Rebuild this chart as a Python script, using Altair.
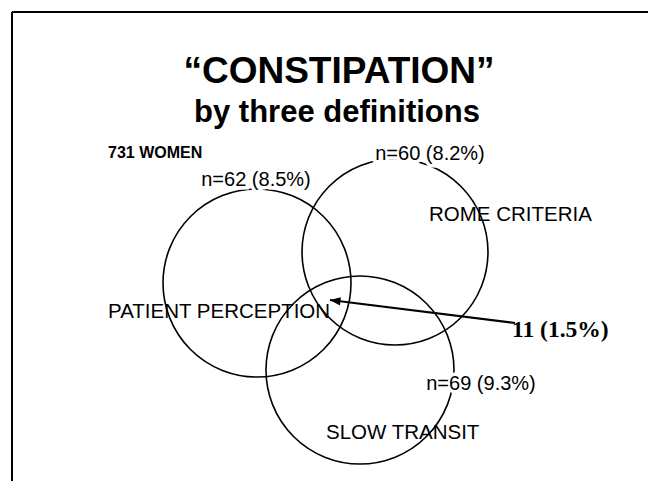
import math
import altair as alt
import pandas as pd

# ---- data (page pixel coordinates) ----
circle_names = ["PATIENT PERCEPTION", "ROME CRITERIA", "SLOW TRANSIT"]
circle_cx = [257, 395, 360]
circle_cy = [283, 252, 370]
circle_r = [94, 93, 94]

label_x = [108, 429, 326]
label_y = [318, 221, 439]

count_text = ["n=62 (8.5%)", "n=60 (8.2%)", "n=69 (9.3%)"]
count_x = [256, 430, 481]
count_y = [186, 160, 390]

overlap_text = "11 (1.5%)"
overlap_pos = (512, 337)
arrow_from = (515, 323)
arrow_to = (330, 300)

sample_text = "731 WOMEN"
sample_pos = (108, 158)

title_lines = ["\u201cCONSTIPATION\u201d", "by three definitions"]
title_x = [339, 337]
title_y = [83, 122]

frame_left, frame_right, frame_top, frame_bottom = 12, 651, 12, 495

W, H = 640, 473
xs = alt.Scale(domain=[8, 8 + W], range=[0, W], nice=False, zero=False)
ys = alt.Scale(domain=[8, 8 + H], reverse=True, nice=False, zero=False)
FONT = "Liberation Sans"

def X(f):
    return alt.X(f, type="quantitative", scale=xs, axis=None)

def Y(f):
    return alt.Y(f, type="quantitative", scale=ys, axis=None)

circles = pd.DataFrame({
    "name": circle_names, "cx": circle_cx, "cy": circle_cy,
    "size": [(2 * r) ** 2 for r in circle_r],
})
circle_layer = alt.Chart(circles).mark_point(
    shape="circle", filled=False, color="black", strokeWidth=1.6, opacity=1
).encode(x=X("cx"), y=Y("cy"), size=alt.Size("size:Q", scale=None, legend=None))

labels = pd.DataFrame({"t": circle_names, "x": label_x, "y": label_y})
label_layer = alt.Chart(labels).mark_text(
    font=FONT, fontSize=20.5, align="left", baseline="alphabetic", color="black"
).encode(x=X("x"), y=Y("y"), text="t:N")

counts = pd.DataFrame({"t": count_text, "x": count_x, "y": count_y})
count_halo = alt.Chart(counts).mark_text(
    font=FONT, fontSize=20, align="center", baseline="alphabetic",
    stroke="white", strokeWidth=7, fill="white"
).encode(x=X("x"), y=Y("y"), text="t:N")
count_layer = alt.Chart(counts).mark_text(
    font=FONT, fontSize=20, align="center", baseline="alphabetic", color="black"
).encode(x=X("x"), y=Y("y"), text="t:N")

sample = pd.DataFrame({"t": [sample_text], "x": [sample_pos[0]], "y": [sample_pos[1]]})
sample_layer = alt.Chart(sample).mark_text(
    font=FONT, fontSize=16, fontWeight="bold", align="left", baseline="alphabetic", color="black"
).encode(x=X("x"), y=Y("y"), text="t:N")

titles = pd.DataFrame({"t": title_lines, "x": title_x, "y": title_y, "s": [37, 31]})
title_layer = alt.Chart(titles).mark_text(
    font=FONT, fontWeight="bold", align="center", baseline="alphabetic", color="black"
).encode(x=X("x"), y=Y("y"), text="t:N",
         size=alt.Size("s:Q", scale=None, legend=None))

arrow = pd.DataFrame({"x": [arrow_from[0]], "y": [arrow_from[1]],
                      "x2": [arrow_to[0]], "y2": [arrow_to[1]]})
arrow_line = alt.Chart(arrow).mark_rule(color="black", strokeWidth=2).encode(
    x=X("x"), y=Y("y"), x2="x2:Q", y2="y2:Q")

ang = math.degrees(math.atan2(arrow_from[1] - arrow_to[1], arrow_from[0] - arrow_to[0]))
head = pd.DataFrame({"x": [arrow_to[0]], "y": [arrow_to[1]]})
arrow_head = alt.Chart(head).mark_point(
    shape="M0,0L2,-0.8L2,0.8Z", filled=True, color="black", opacity=1,
    size=110, angle=ang, strokeWidth=0
).encode(x=X("x"), y=Y("y"))

overlap = pd.DataFrame({"t": [overlap_text], "x": [overlap_pos[0]], "y": [overlap_pos[1]]})
overlap_layer = alt.Chart(overlap).mark_text(
    font="Liberation Serif", fontSize=23.5, fontWeight="bold", align="left",
    baseline="alphabetic", color="black"
).encode(x=X("x"), y=Y("y"), text="t:N")

frame = pd.DataFrame({"x": [frame_left, frame_right, frame_left],
                      "x2": [frame_left, frame_right, frame_right],
                      "y": [frame_top, frame_top, frame_top],
                      "y2": [frame_bottom, frame_bottom, frame_top]})
frame_layer = alt.Chart(frame).mark_rule(color="black", strokeWidth=2).encode(
    x=X("x"), y=Y("y"), x2="x2:Q", y2="y2:Q")

chart = alt.layer(
    frame_layer, circle_layer, label_layer, arrow_line, arrow_head,
    count_halo, count_layer, sample_layer, title_layer, overlap_layer
).properties(
    width=W, height=H, autosize=alt.AutoSizeParams(type="none"), padding=0,
    background="white"
).configure_view(stroke=None)

chart.save("out.html", embed_options={"renderer": "svg", "actions": False})
